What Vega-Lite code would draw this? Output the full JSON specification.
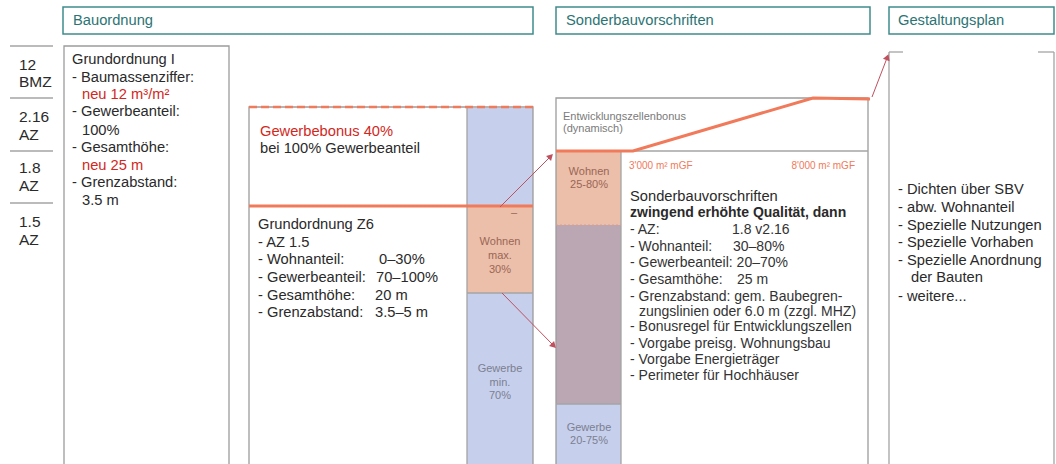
{
"$schema": "https://vega.github.io/schema/vega-lite/v6.json",
"width": 1056, "height": 464, "autosize": {"type": "none"}, "padding": 0,
"background": "white",
"config": {"view": {"stroke": null}, "text": {"font": "Liberation Sans"}},
"datasets": {
"fills": [
{"x1":467,"x2":533,"y1":108,"y2":206,"kind":"blue"},
{"x1":467,"x2":533,"y1":206,"y2":293,"kind":"salmon"},
{"x1":467,"x2":533,"y1":293,"y2":466,"kind":"blue"},
{"x1":556,"x2":621,"y1":152,"y2":225,"kind":"salmon"},
{"x1":556,"x2":621,"y1":225,"y2":404,"kind":"mauve"},
{"x1":556,"x2":621,"y1":404,"y2":466,"kind":"blue"}
],
"grayboxes": [
{"x1":64,"x2":229,"y1":46,"y2":470},
{"x1":249,"x2":533,"y1":107,"y2":470},
{"x1":556,"x2":868,"y1":98,"y2":470}
],
"headers": [
{"x1":63,"x2":533,"y1":7,"y2":34},
{"x1":556,"x2":870,"y1":7,"y2":34},
{"x1":889,"x2":1054,"y1":7,"y2":34}
],
"grayrules": [
{"x1":10,"x2":53,"y1":46,"y2":46},
{"x1":10,"x2":53,"y1":98,"y2":98},
{"x1":10,"x2":53,"y1":151,"y2":151},
{"x1":10,"x2":53,"y1":203,"y2":203},
{"x1":556,"x2":868,"y1":151,"y2":151},
{"x1":621,"x2":621,"y1":151,"y2":470},
{"x1":467,"x2":467,"y1":108,"y2":470},
{"x1":467,"x2":533,"y1":293,"y2":293},
{"x1":556,"x2":621,"y1":404,"y2":404},
{"x1":889,"x2":889,"y1":52,"y2":470},
{"x1":1054,"x2":1054,"y1":52,"y2":470},
{"x1":889,"x2":903,"y1":52,"y2":52},
{"x1":1038,"x2":1054,"y1":52,"y2":52}
],
"orangerules": [
{"x1":249,"x2":533,"y1":206,"y2":206}
],
"orangedash": [
{"x1":249,"x2":533,"y1":107,"y2":107}
],
"thindash": [
{"x1":556,"x2":621,"y1":225,"y2":225}
],
"bonusline": [
{"x":556,"y":151,"o":1},
{"x":633,"y":151,"o":2},
{"x":813,"y":98,"o":3},
{"x":870,"y":99,"o":4}
],
"arrows": [
{"x1":500,"y1":207,"x2":550,"y2":157,"angle":45},
{"x1":502,"y1":293,"x2":553,"y2":345,"angle":135.5},
{"x1":872,"y1":97,"x2":887,"y2":58,"angle":21}
],
"texts": [
{"role":"header","text":"Bauordnung","x":73,"y":21},
{"role":"header","text":"Sonderbauvorschriften","x":566,"y":21},
{"role":"header","text":"Gestaltungsplan","x":898,"y":21},
{"role":"scale","text":"12","x":19,"y":65},
{"role":"scale","text":"BMZ","x":19,"y":82},
{"role":"scale","text":"2.16","x":19,"y":117},
{"role":"scale","text":"AZ","x":19,"y":135},
{"role":"scale","text":"1.8","x":19,"y":168},
{"role":"scale","text":"AZ","x":19,"y":186},
{"role":"scale","text":"1.5","x":19,"y":222},
{"role":"scale","text":"AZ","x":19,"y":240},
{"role":"body","text":"Grundordnung I","x":72,"y":60},
{"role":"body","text":"- Baumassenziffer:","x":72,"y":78},
{"role":"red","text":"neu 12 m³/m²","x":82,"y":95},
{"role":"body","text":"- Gewerbeanteil:","x":72,"y":112},
{"role":"body","text":"100%","x":82,"y":131},
{"role":"body","text":"- Gesamthöhe:","x":72,"y":148},
{"role":"red","text":"neu 25 m","x":82,"y":166},
{"role":"body","text":"- Grenzabstand:","x":72,"y":183},
{"role":"body","text":"3.5 m","x":82,"y":201},
{"role":"red","text":"Gewerbebonus 40%","x":260,"y":132},
{"role":"body","text":"bei 100% Gewerbeanteil","x":260,"y":149},
{"role":"body","text":"Grundordnung Z6","x":258,"y":225},
{"role":"body","text":"- AZ 1.5","x":258,"y":243},
{"role":"body","text":"- Wohnanteil:","x":258,"y":260},
{"role":"body","text":"0–30%","x":379,"y":260},
{"role":"body","text":"- Gewerbeanteil:","x":258,"y":278},
{"role":"body","text":"70–100%","x":376,"y":278},
{"role":"body","text":"- Gesamthöhe:","x":258,"y":296},
{"role":"body","text":"20 m","x":375,"y":296},
{"role":"body","text":"- Grenzabstand:","x":258,"y":313},
{"role":"body","text":"3.5–5 m","x":375,"y":313},
{"role":"colW","text":"–","x":514,"y":213},
{"role":"colW","text":"Wohnen","x":500,"y":242},
{"role":"colW","text":"max.","x":500,"y":256},
{"role":"colW","text":"30%","x":500,"y":270},
{"role":"colG","text":"Gewerbe","x":500,"y":369},
{"role":"colG","text":"min.","x":500,"y":383},
{"role":"colG","text":"70%","x":500,"y":396},
{"role":"small","text":"Entwicklungszellenbonus","x":563,"y":117},
{"role":"small","text":"(dynamisch)","x":563,"y":129},
{"role":"orange","text":"3'000 m² mGF","x":629,"y":166},
{"role":"orangeR","text":"8'000 m² mGF","x":855,"y":166},
{"role":"colW","text":"Wohnen","x":589,"y":172},
{"role":"colW","text":"25-80%","x":589,"y":185},
{"role":"colG","text":"Gewerbe","x":589,"y":428},
{"role":"colG","text":"20-75%","x":589,"y":441},
{"role":"body","text":"Sonderbauvorschriften","x":630,"y":197},
{"role":"bold","text":"zwingend erhöhte Qualität, dann","x":630,"y":213},
{"role":"sb","text":"- AZ:","x":630,"y":230},
{"role":"sb","text":"1.8 v2.16","x":732,"y":230},
{"role":"sb","text":"- Wohnanteil:","x":630,"y":247},
{"role":"sb","text":"30–80%","x":733,"y":247},
{"role":"sb","text":"- Gewerbeanteil: 20–70%","x":630,"y":263},
{"role":"sb","text":"- Gesamthöhe:","x":630,"y":280},
{"role":"sb","text":"25 m","x":737,"y":280},
{"role":"sb","text":"- Grenzabstand:  gem. Baubegren-","x":630,"y":297},
{"role":"sb","text":"zungslinien oder 6.0 m (zzgl. MHZ)","x":639,"y":312},
{"role":"sb","text":"- Bonusregel für Entwicklungszellen","x":630,"y":327},
{"role":"sb","text":"- Vorgabe preisg. Wohnungsbau","x":630,"y":344},
{"role":"sb","text":"- Vorgabe Energieträger","x":630,"y":360},
{"role":"sb","text":"- Perimeter für Hochhäuser","x":630,"y":376},
{"role":"body","text":"- Dichten über SBV","x":898,"y":190},
{"role":"body","text":"- abw. Wohnanteil","x":898,"y":208},
{"role":"body","text":"- Spezielle Nutzungen","x":898,"y":226},
{"role":"body","text":"- Spezielle Vorhaben","x":898,"y":243},
{"role":"body","text":"- Spezielle Anordnung","x":898,"y":261},
{"role":"body","text":"der Bauten","x":911,"y":278},
{"role":"body","text":"- weitere...","x":898,"y":297}
]
},
"layer": [
{"data":{"name":"fills"},"mark":{"type":"rect"},
 "encoding":{
  "x":{"field":"x1","type":"quantitative","scale":{"domain":[0,1056],"nice":false,"zero":false},"axis":null},
  "x2":{"field":"x2"},
  "y":{"field":"y1","type":"quantitative","scale":{"domain":[0,464],"reverse":true,"nice":false,"zero":false},"axis":null},
  "y2":{"field":"y2"},
  "color":{"field":"kind","type":"nominal","scale":{"domain":["blue","salmon","mauve"],"range":["#c6cfec","#ecbfaa","#bba7b4"]},"legend":null}}},
{"data":{"name":"grayboxes"},"mark":{"type":"rect","filled":false,"stroke":"#9c9c9c","strokeWidth":1.3},
 "encoding":{
  "x":{"field":"x1","type":"quantitative","scale":{"domain":[0,1056],"nice":false,"zero":false},"axis":null},
  "x2":{"field":"x2"},
  "y":{"field":"y1","type":"quantitative","scale":{"domain":[0,464],"reverse":true,"nice":false,"zero":false},"axis":null},
  "y2":{"field":"y2"}}},
{"data":{"name":"headers"},"mark":{"type":"rect","filled":false,"stroke":"#3f8c8c","strokeWidth":1.5},
 "encoding":{
  "x":{"field":"x1","type":"quantitative","scale":{"domain":[0,1056],"nice":false,"zero":false},"axis":null},
  "x2":{"field":"x2"},
  "y":{"field":"y1","type":"quantitative","scale":{"domain":[0,464],"reverse":true,"nice":false,"zero":false},"axis":null},
  "y2":{"field":"y2"}}},
{"data":{"name":"grayrules"},"mark":{"type":"rule","stroke":"#a4a4a4","strokeWidth":1.3},
 "encoding":{
  "x":{"field":"x1","type":"quantitative","scale":{"domain":[0,1056],"nice":false,"zero":false},"axis":null},
  "x2":{"field":"x2"},
  "y":{"field":"y1","type":"quantitative","scale":{"domain":[0,464],"reverse":true,"nice":false,"zero":false},"axis":null},
  "y2":{"field":"y2"}}},
{"data":{"name":"thindash"},"mark":{"type":"rule","stroke":"#d9a08c","strokeWidth":1,"strokeDash":[2,2]},
 "encoding":{
  "x":{"field":"x1","type":"quantitative","scale":{"domain":[0,1056],"nice":false,"zero":false},"axis":null},
  "x2":{"field":"x2"},
  "y":{"field":"y1","type":"quantitative","scale":{"domain":[0,464],"reverse":true,"nice":false,"zero":false},"axis":null},
  "y2":{"field":"y2"}}},
{"data":{"name":"orangedash"},"mark":{"type":"rule","stroke":"#f07a5a","strokeWidth":2.5,"strokeDash":[8,4]},
 "encoding":{
  "x":{"field":"x1","type":"quantitative","scale":{"domain":[0,1056],"nice":false,"zero":false},"axis":null},
  "x2":{"field":"x2"},
  "y":{"field":"y1","type":"quantitative","scale":{"domain":[0,464],"reverse":true,"nice":false,"zero":false},"axis":null},
  "y2":{"field":"y2"}}},
{"data":{"name":"orangerules"},"mark":{"type":"rule","stroke":"#f07a5a","strokeWidth":3},
 "encoding":{
  "x":{"field":"x1","type":"quantitative","scale":{"domain":[0,1056],"nice":false,"zero":false},"axis":null},
  "x2":{"field":"x2"},
  "y":{"field":"y1","type":"quantitative","scale":{"domain":[0,464],"reverse":true,"nice":false,"zero":false},"axis":null},
  "y2":{"field":"y2"}}},
{"data":{"name":"bonusline"},"mark":{"type":"line","stroke":"#f07a5a","strokeWidth":3},
 "encoding":{
  "x":{"field":"x","type":"quantitative","scale":{"domain":[0,1056],"nice":false,"zero":false},"axis":null},
  "y":{"field":"y","type":"quantitative","scale":{"domain":[0,464],"reverse":true,"nice":false,"zero":false},"axis":null},
  "order":{"field":"o","type":"quantitative"}}},
{"data":{"name":"arrows"},"mark":{"type":"rule","stroke":"#c0505e","strokeWidth":1},
 "encoding":{
  "x":{"field":"x1","type":"quantitative","scale":{"domain":[0,1056],"nice":false,"zero":false},"axis":null},
  "x2":{"field":"x2"},
  "y":{"field":"y1","type":"quantitative","scale":{"domain":[0,464],"reverse":true,"nice":false,"zero":false},"axis":null},
  "y2":{"field":"y2"}}},
{"data":{"name":"arrows"},"mark":{"type":"point","shape":"triangle","filled":true,"fill":"#c0505e","size":50,"opacity":1},
 "encoding":{
  "x":{"field":"x2","type":"quantitative","scale":{"domain":[0,1056],"nice":false,"zero":false},"axis":null},
  "y":{"field":"y2","type":"quantitative","scale":{"domain":[0,464],"reverse":true,"nice":false,"zero":false},"axis":null},
  "angle":{"field":"angle","type":"quantitative","scale":null}}},
{"data":{"name":"texts"},"transform":[{"filter":"datum.role === 'header'"}],
 "mark":{"type":"text","align":"left","baseline":"middle","fontSize":14.7,"fill":"#2b7474","font":"Liberation Sans"},
 "encoding":{
  "x":{"field":"x","type":"quantitative","scale":{"domain":[0,1056],"nice":false,"zero":false},"axis":null},
  "y":{"field":"y","type":"quantitative","scale":{"domain":[0,464],"reverse":true,"nice":false,"zero":false},"axis":null},
  "text":{"field":"text"}}},
{"data":{"name":"texts"},"transform":[{"filter":"datum.role === 'scale'"}],
 "mark":{"type":"text","align":"left","baseline":"middle","fontSize":15.5,"fill":"#2a2a2a","font":"Liberation Sans"},
 "encoding":{
  "x":{"field":"x","type":"quantitative","scale":{"domain":[0,1056],"nice":false,"zero":false},"axis":null},
  "y":{"field":"y","type":"quantitative","scale":{"domain":[0,464],"reverse":true,"nice":false,"zero":false},"axis":null},
  "text":{"field":"text"}}},
{"data":{"name":"texts"},"transform":[{"filter":"datum.role === 'body'"}],
 "mark":{"type":"text","align":"left","baseline":"middle","fontSize":14.7,"fill":"#2a2a2a","font":"Liberation Sans"},
 "encoding":{
  "x":{"field":"x","type":"quantitative","scale":{"domain":[0,1056],"nice":false,"zero":false},"axis":null},
  "y":{"field":"y","type":"quantitative","scale":{"domain":[0,464],"reverse":true,"nice":false,"zero":false},"axis":null},
  "text":{"field":"text"}}},
{"data":{"name":"texts"},"transform":[{"filter":"datum.role === 'sb'"}],
 "mark":{"type":"text","align":"left","baseline":"middle","fontSize":14,"fill":"#333333","font":"Liberation Sans"},
 "encoding":{
  "x":{"field":"x","type":"quantitative","scale":{"domain":[0,1056],"nice":false,"zero":false},"axis":null},
  "y":{"field":"y","type":"quantitative","scale":{"domain":[0,464],"reverse":true,"nice":false,"zero":false},"axis":null},
  "text":{"field":"text"}}},
{"data":{"name":"texts"},"transform":[{"filter":"datum.role === 'bold'"}],
 "mark":{"type":"text","align":"left","baseline":"middle","fontSize":14,"fontWeight":"bold","fill":"#2a2a2a","font":"Liberation Sans"},
 "encoding":{
  "x":{"field":"x","type":"quantitative","scale":{"domain":[0,1056],"nice":false,"zero":false},"axis":null},
  "y":{"field":"y","type":"quantitative","scale":{"domain":[0,464],"reverse":true,"nice":false,"zero":false},"axis":null},
  "text":{"field":"text"}}},
{"data":{"name":"texts"},"transform":[{"filter":"datum.role === 'red'"}],
 "mark":{"type":"text","align":"left","baseline":"middle","fontSize":14.7,"fill":"#d2281c","font":"Liberation Sans"},
 "encoding":{
  "x":{"field":"x","type":"quantitative","scale":{"domain":[0,1056],"nice":false,"zero":false},"axis":null},
  "y":{"field":"y","type":"quantitative","scale":{"domain":[0,464],"reverse":true,"nice":false,"zero":false},"axis":null},
  "text":{"field":"text"}}},
{"data":{"name":"texts"},"transform":[{"filter":"datum.role === 'small'"}],
 "mark":{"type":"text","align":"left","baseline":"middle","fontSize":11,"fill":"#7a7a7a","font":"Liberation Sans"},
 "encoding":{
  "x":{"field":"x","type":"quantitative","scale":{"domain":[0,1056],"nice":false,"zero":false},"axis":null},
  "y":{"field":"y","type":"quantitative","scale":{"domain":[0,464],"reverse":true,"nice":false,"zero":false},"axis":null},
  "text":{"field":"text"}}},
{"data":{"name":"texts"},"transform":[{"filter":"datum.role === 'orange'"}],
 "mark":{"type":"text","align":"left","baseline":"middle","fontSize":10,"fill":"#f07a5a","font":"Liberation Sans"},
 "encoding":{
  "x":{"field":"x","type":"quantitative","scale":{"domain":[0,1056],"nice":false,"zero":false},"axis":null},
  "y":{"field":"y","type":"quantitative","scale":{"domain":[0,464],"reverse":true,"nice":false,"zero":false},"axis":null},
  "text":{"field":"text"}}},
{"data":{"name":"texts"},"transform":[{"filter":"datum.role === 'orangeR'"}],
 "mark":{"type":"text","align":"right","baseline":"middle","fontSize":10,"fill":"#f07a5a","font":"Liberation Sans"},
 "encoding":{
  "x":{"field":"x","type":"quantitative","scale":{"domain":[0,1056],"nice":false,"zero":false},"axis":null},
  "y":{"field":"y","type":"quantitative","scale":{"domain":[0,464],"reverse":true,"nice":false,"zero":false},"axis":null},
  "text":{"field":"text"}}},
{"data":{"name":"texts"},"transform":[{"filter":"datum.role === 'colW'"}],
 "mark":{"type":"text","align":"center","baseline":"middle","fontSize":11,"fill":"#9a6656","font":"Liberation Sans"},
 "encoding":{
  "x":{"field":"x","type":"quantitative","scale":{"domain":[0,1056],"nice":false,"zero":false},"axis":null},
  "y":{"field":"y","type":"quantitative","scale":{"domain":[0,464],"reverse":true,"nice":false,"zero":false},"axis":null},
  "text":{"field":"text"}}},
{"data":{"name":"texts"},"transform":[{"filter":"datum.role === 'colG'"}],
 "mark":{"type":"text","align":"center","baseline":"middle","fontSize":11,"fill":"#7c8090","font":"Liberation Sans"},
 "encoding":{
  "x":{"field":"x","type":"quantitative","scale":{"domain":[0,1056],"nice":false,"zero":false},"axis":null},
  "y":{"field":"y","type":"quantitative","scale":{"domain":[0,464],"reverse":true,"nice":false,"zero":false},"axis":null},
  "text":{"field":"text"}}}
]
}
